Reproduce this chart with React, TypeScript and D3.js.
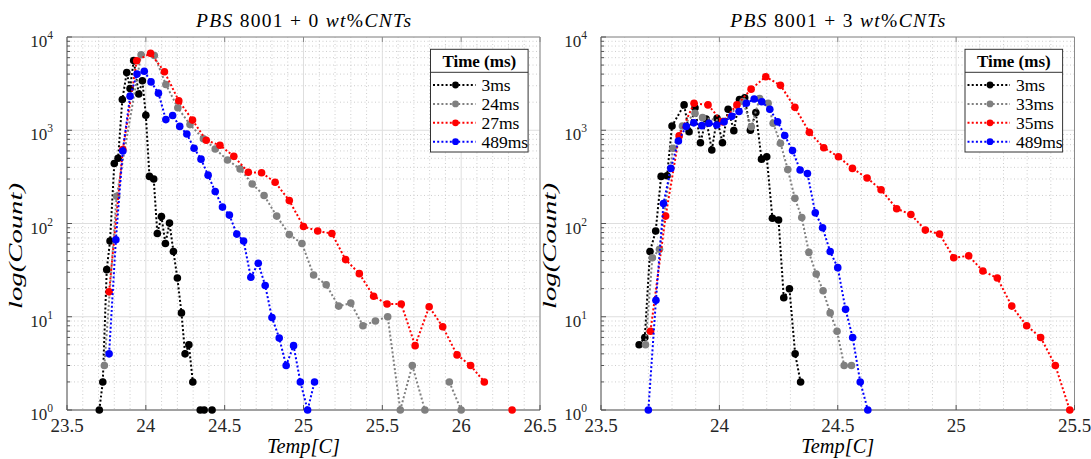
import React from "react";
import * as d3 from "d3";

// left panel: PBS 8001 + 0 wt%CNTs (null = empty bin, not drawn)
const left3msX = [23.705, 23.727, 23.752, 23.773, 23.8, 23.824, 23.851, 23.879, 23.9, 23.923, 23.955, 23.978, 24.0, 24.023, 24.05, 24.073, 24.099, 24.124, 24.15, 24.175, 24.2, 24.226, 24.249, 24.273, 24.298, 24.32, 24.345, 24.37, 24.395, 24.42];
const left3msY = [1, 2, 32, 65, 440, 500, 2140, 4150, 2800, 5600, 2450, 3400, 1450, 320, 300, 78, 119, 61, 101, 50, 26, 11, 4, 5, 2, null, 1, 1, null, 1];
const left24msX = [23.737, 23.815, 23.97, 24.054, 24.127, 24.203, 24.28, 24.365, 24.44, 24.518, 24.598, 24.675, 24.75, 24.83, 24.91, 24.99, 25.064, 25.144, 25.223, 25.3, 25.377, 25.456, 25.534, 25.614, 25.69, 25.77, 25.85, 25.925, 26.0];
const left24msY = [3, 196, 6450, 6330, 3100, 1740, 1150, 810, 630, 480, 385, 265, 200, 120, 76, 61, 28, 22, 13, 14, 8, 9, 10, 1, 3, 1, null, 2, 1];
const left27msX = [23.767, 23.854, 23.942, 24.03, 24.118, 24.209, 24.296, 24.383, 24.47, 24.558, 24.65, 24.734, 24.82, 24.91, 25.0, 25.09, 25.18, 25.267, 25.354, 25.445, 25.53, 25.62, 25.708, 25.797, 25.883, 25.974, 26.06, 26.147, 26.235, 26.323];
const left27msY = [18.5, 620, 5560, 6680, 4240, 2070, 1285, 780, 690, 525, 355, 350, 277, 176, 93, 83, 78, 41, 29, 16.6, 13.7, 13.7, 4.9, 12.8, 7.8, 3.9, 3, 2, null, 1];
const left489msX = [23.767, 23.81, 23.854, 23.9, 23.944, 23.99, 24.033, 24.08, 24.127, 24.17, 24.215, 24.26, 24.306, 24.35, 24.395, 24.44, 24.486, 24.53, 24.577, 24.62, 24.666, 24.713, 24.757, 24.8, 24.846, 24.89, 24.937, 24.98, 25.026, 25.07];
const left489msY = [4, 67, 600, 2320, 4000, 4300, 3300, 2500, 1300, 1440, 1100, 910, 640, 490, 330, 220, 150, 123, 77, 65, 26.5, 37.5, 21.6, 9.8, 5.9, 3, 4.9, 2, 1, 2];

// right panel: PBS 8001 + 3 wt%CNTs
const right3msX = [23.661, 23.685, 23.707, 23.731, 23.754, 23.779, 23.8, 23.851, 23.872, 23.897, 23.92, 23.944, 23.968, 23.99, 24.013, 24.037, 24.061, 24.085, 24.107, 24.131, 24.154, 24.178, 24.2, 24.224, 24.25, 24.272, 24.296, 24.32, 24.343];
const right3msY = [5, 6, 50, 83, 320, 325, 1110, 1870, 965, 1740, 735, 1320, 615, 1340, 735, 1680, 990, 2140, 2230, 1000, 1550, 490, 520, 114, 109, 16, 20, 4, 2];
const right33msX = [23.688, 23.717, 23.747, 23.804, 23.844, 23.897, 23.929, 24.016, 24.1, 24.135, 24.17, 24.206, 24.227, 24.258, 24.289, 24.319, 24.348, 24.378, 24.409, 24.438, 24.468, 24.497, 24.527, 24.558];
const right33msY = [5, 43, 53, 640, 1110, 1520, 1365, 1250, 2030, 1090, 2190, 1950, 1190, 725, 380, 186, 116, 49, 28.7, 19, 11, 7, 3, 3];
const right35msX = [23.709, 23.773, 23.83, 23.893, 23.952, 24.013, 24.074, 24.134, 24.196, 24.258, 24.319, 24.38, 24.441, 24.503, 24.562, 24.624, 24.683, 24.749, 24.809, 24.87, 24.93, 24.99, 25.053, 25.113, 25.174, 25.235, 25.298, 25.357, 25.419, 25.48];
const right35msY = [7, 120, 870, 1950, 1870, 1230, 1870, 2760, 3750, 3030, 1760, 950, 650, 520, 390, 307, 230, 144, 125, 85, 77, 43, 45, 31, 26, 13, 8, 6, 3, 1];
const right489msX = [23.7, 23.732, 23.764, 23.795, 23.827, 23.86, 23.892, 23.926, 23.956, 23.989, 24.02, 24.052, 24.083, 24.114, 24.147, 24.179, 24.213, 24.246, 24.276, 24.309, 24.341, 24.372, 24.405, 24.436, 24.468, 24.5, 24.533, 24.563, 24.595, 24.627];
const right489msY = [1, 15, 164, 390, 767, 1100, 1200, 1120, 1190, 1140, 1230, 1410, 1590, 1950, 2160, 2020, 1680, 1230, 880, 605, 375, 343, 130, 90, 50, 33.6, 12, 6, 2, 1];

const leftLabels = ["3ms", "24ms", "27ms", "489ms"];
const rightLabels = ["3ms", "33ms", "35ms", "489ms"];
const leftXTicks = [23.5, 24, 24.5, 25, 25.5, 26, 26.5];
const rightXTicks = [23.5, 24, 24.5, 25, 25.5];
const yTicks = [1, 10, 100, 1000, 10000];
const colors = ["#000000", "#808080", "#ff0000", "#0000ff"];

const W = 1091;
const H = 459;
const TOP = 37;
const BOTTOM = 410;
const FONT = "'Liberation Serif', Tinos, 'Times New Roman', 'DejaVu Serif', serif";

type Pt = [number, number | null];

const zip = (xs: number[], ys: (number | null)[]): Pt[] => xs.map((x, i) => [x, ys[i]]);

function Panel({ left, right, domain, xTicks, series, labels, wt }) {
  const x = d3.scaleLinear().domain(domain).range([left, right]);
  const y = d3.scaleLog().domain([1, 10000]).range([BOTTOM, TOP]);

  const line = d3
    .line<Pt>()
    .defined((d) => d[1] != null)
    .x((d) => x(d[0]))
    .y((d) => y(d[1] as number));

  const minorX = d3.range(domain[0] + 0.1, domain[1] - 0.05, 0.1).filter((v) => Math.abs(v * 2 - Math.round(v * 2)) > 0.01);
  const minorY = y.ticks().filter((v) => !yTicks.includes(v));
  const cx = (left + right) / 2;

  // legend box
  const lx = right - 109.5;
  const ly = TOP + 12.3;

  return (
    <g>
      <rect x={left} y={TOP} width={right - left} height={BOTTOM - TOP} fill="#fff" />
      {/* minor grid */}
      {minorX.map((v) => (
        <line key={"mx" + v} x1={x(v)} x2={x(v)} y1={TOP} y2={BOTTOM} stroke="#cdcdcd" strokeDasharray="1 2.5" />
      ))}
      {minorY.map((v) => (
        <line key={"my" + v} x1={left} x2={right} y1={y(v)} y2={y(v)} stroke="#cdcdcd" strokeDasharray="1 2.5" />
      ))}
      {/* major grid */}
      {xTicks.map((v) => (
        <line key={"gx" + v} x1={x(v)} x2={x(v)} y1={TOP} y2={BOTTOM} stroke="#dedede" />
      ))}
      {yTicks.map((v) => (
        <line key={"gy" + v} x1={left} x2={right} y1={y(v)} y2={y(v)} stroke="#dedede" />
      ))}
      {/* axes box */}
      <line x1={left} x2={right} y1={TOP} y2={TOP} stroke="#8a8a8a" />
      <line x1={right} x2={right} y1={TOP} y2={BOTTOM} stroke="#8a8a8a" />
      <line x1={left} x2={right} y1={BOTTOM} y2={BOTTOM} stroke="#555" />
      <line x1={left} x2={left} y1={TOP} y2={BOTTOM} stroke="#555" />
      {xTicks.map((v) => (
        <g key={"tx" + v}>
          <line x1={x(v)} x2={x(v)} y1={BOTTOM} y2={BOTTOM - 5} stroke="#555" />
          <line x1={x(v)} x2={x(v)} y1={TOP} y2={TOP + 5} stroke="#8a8a8a" />
          <text x={x(v)} y={432} textAnchor="middle" fontSize={19} fill="#262626">
            {v}
          </text>
        </g>
      ))}
      {minorY.map((v) => (
        <line key={"ty" + v} x1={left} x2={left + 3} y1={y(v)} y2={y(v)} stroke="#555" />
      ))}
      {yTicks.map((v) => (
        <g key={"ly" + v}>
          <line x1={left} x2={left + 5} y1={y(v)} y2={y(v)} stroke="#555" />
          <text x={left - 14} y={y(v) + 10} textAnchor="end" fontSize={17} fill="#262626">
            10
            <tspan fontSize={11.5} dy={-8}>
              {Math.round(Math.log10(v))}
            </tspan>
          </text>
        </g>
      ))}
      {/* series */}
      {series.map((s: Pt[], i: number) => (
        <g key={"s" + i}>
          <path d={line(s) || ""} fill="none" stroke={colors[i]} strokeWidth={2} strokeDasharray="2 2.2" />
          {s
            .filter((d) => d[1] != null)
            .map((d, j) => (
              <circle key={j} cx={x(d[0])} cy={y(d[1] as number)} r={3.8} fill={colors[i]} />
            ))}
        </g>
      ))}
      {/* legend */}
      <rect x={lx} y={ly} width={97.6} height={102.7} fill="#fff" stroke="#333" />
      <line x1={lx} x2={lx + 97.6} y1={ly + 23} y2={ly + 23} stroke="#333" />
      <text x={lx + 48.8} y={ly + 17.5} textAnchor="middle" fontSize={17} fontWeight="bold" fill="#000">
        Time (ms)
      </text>
      {labels.map((lab: string, i: number) => {
        const yy = ly + 35.7 + i * 18.9;
        return (
          <g key={"lg" + i}>
            <line x1={lx + 2.5} x2={lx + 45} y1={yy} y2={yy} stroke={colors[i]} strokeWidth={2} strokeDasharray="2 2.2" />
            <circle cx={lx + 25} cy={yy} r={3.4} fill={colors[i]} />
            <text x={lx + 51} y={yy + 6} fontSize={17.5} fill="#000">
              {lab}
            </text>
          </g>
        );
      })}
      {/* title and axis labels */}
      <text x={cx} y={27} textAnchor="middle" fontSize={19.5} fill="#000" textLength={215} lengthAdjust="spacing">
        <tspan fontStyle="italic">PBS</tspan>
        <tspan> 8001 + {wt} </tspan>
        <tspan fontStyle="italic">wt</tspan>
        <tspan>%</tspan>
        <tspan fontStyle="italic">CNTs</tspan>
      </text>
      <text x={cx} y={453} textAnchor="middle" fontSize={20} fontStyle="italic" fill="#000" textLength={73} lengthAdjust="spacingAndGlyphs">
        Temp[C]
      </text>
      <text
        transform={`translate(${left - 45.5},246) rotate(-90)`}
        textAnchor="middle"
        fontSize={19}
        fontStyle="italic"
        fill="#000"
        textLength={126}
        lengthAdjust="spacingAndGlyphs"
      >
        log(Count)
      </text>
    </g>
  );
}

export default function App() {
  const leftSeries = [zip(left3msX, left3msY), zip(left24msX, left24msY), zip(left27msX, left27msY), zip(left489msX, left489msY)];
  const rightSeries = [zip(right3msX, right3msY), zip(right33msX, right33msY), zip(right35msX, right35msY), zip(right489msX, right489msY)];
  return (
    <svg width={W} height={H} style={{ position: "absolute", left: 0, top: 0, background: "#fff", fontFamily: FONT }}>
      <rect width={W} height={H} fill="#fff" />
      <Panel left={67} right={540} domain={[23.5, 26.5]} xTicks={leftXTicks} series={leftSeries} labels={leftLabels} wt={0} />
      <Panel left={601} right={1074.5} domain={[23.5, 25.5]} xTicks={rightXTicks} series={rightSeries} labels={rightLabels} wt={3} />
    </svg>
  );
}
